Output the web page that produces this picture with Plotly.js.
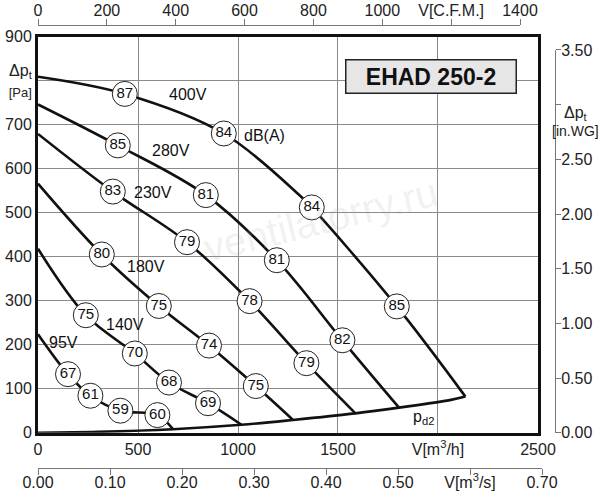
<!DOCTYPE html>
<html>
<head>
<meta charset="utf-8">
<script src="https://cdn.plot.ly/plotly-3.0.1.min.js"></script>
<style>
  body { margin: 0; background: #fff; }
  #chart { width: 600px; height: 500px; }
</style>
</head>
<body>
<div id="chart"></div>
<script>
// fan curves, V [m3/h] vs dpt [Pa]
var q400 = [0, 434, 929, 1309, 1369, 1794, 2137];
var p400 = [809, 770, 680, 539, 512, 287, 82];
var q280 = [0, 399, 839, 1194, 1522, 1805];
var p280 = [746, 653, 540, 392, 210, 57];
var q230 = [0, 374, 745, 1058, 1342, 1587];
var p230 = [679, 548, 433, 299, 158, 44];
var q180 = [0, 319, 604, 855, 1089, 1275];
var p180 = [566, 405, 288, 198, 106, 29];
var q140 = [0, 239, 484, 655, 850, 1017];
var p140 = [418, 267, 180, 114, 67, 18];
var q95 = [0, 150, 262, 412, 597, 675];
var p95 = [224, 133, 84, 50, 40, 8];

// dynamic pressure pd2
var qPd = [0, 300, 675, 1017, 1275, 1587, 1805, 2059, 2137];
var pPd = [0, 2, 8, 18, 29, 44, 57, 74, 82];

// sound level points dB(A)
var dbQ = [434, 929, 1369, 1794,
           399, 839, 1194, 1522,
           374, 745, 1058, 1342,
           319, 604, 855, 1089,
           239, 484, 655, 850,
           150, 262, 412, 597];
var dbP = [770, 680, 512, 287,
           653, 540, 392, 210,
           548, 433, 299, 158,
           405, 288, 198, 106,
           267, 180, 114, 67,
           133, 84, 50, 40];
var dbVal = ['87', '84', '84', '85',
             '85', '81', '81', '82',
             '83', '79', '78', '79',
             '80', '75', '74', '75',
             '75', '70', '68', '69',
             '67', '61', '59', '60'];

var curveNames = ['400V', '280V', '230V', '180V', '140V', '95V'];
var curveLabQ = [750, 667, 575, 542, 434, 125];
var curveLabP = [768, 641, 545, 377, 247, 204];

var font = 'Arial, "Liberation Sans", sans-serif';

function curve(x, y) {
    return {
        x: x, y: y, type: 'scatter', mode: 'lines',
        line: {color: '#111', width: 2.6, shape: 'spline'},
        hoverinfo: 'skip', showlegend: false
    };
}

var data = [
    curve(q400, p400), curve(q280, p280), curve(q230, p230),
    curve(q180, p180), curve(q140, p140), curve(q95, p95),
    curve(qPd, pPd),
    {
        x: dbQ, y: dbP, text: dbVal, type: 'scatter', mode: 'markers+text',
        textposition: 'middle center',
        textfont: {family: font, size: 15, color: '#111'},
        marker: {size: 25, color: '#fff', line: {color: '#222', width: 1}},
        hoverinfo: 'skip', showlegend: false
    },
    // carriers for the extra axes
    {x: [0], y: [0], xaxis: 'x2', yaxis: 'y2', mode: 'markers',
     marker: {opacity: 0}, hoverinfo: 'skip', showlegend: false},
    {x: [0], y: [0], xaxis: 'x3', yaxis: 'y2', mode: 'markers',
     marker: {opacity: 0}, hoverinfo: 'skip', showlegend: false}
];

var annotations = curveNames.map(function (n, i) {
    return {x: curveLabQ[i], y: curveLabP[i], xref: 'x', yref: 'y', text: n,
            showarrow: false, font: {family: font, size: 16, color: '#111'}};
});
annotations.push(
    {x: 1134, y: 675, xref: 'x', yref: 'y', text: 'dB(A)', showarrow: false,
     font: {family: font, size: 16, color: '#111'}},
    {x: 1929, y: 35, xref: 'x', yref: 'y', text: 'p<sub>d2</sub>', showarrow: false,
     font: {family: font, size: 16, color: '#111'}},
    {x: 1963, y: 809, xref: 'x', yref: 'y', text: '<b>EHAD 250-2</b>', showarrow: false,
     font: {family: font, size: 23, color: '#111'},
     bgcolor: '#e6e6e6', bordercolor: '#222', borderwidth: 1.5, borderpad: 1,
     width: 167, height: 30},
    {x: 1.0406, y: 0.826, xref: 'paper', yref: 'paper', xanchor: 'center',
     text: '<span style="font-size:16px">\u0394p<sub>t</sub></span><br>[in.WG]',
     showarrow: false,
     font: {family: font, size: 14, color: '#222'}},
    {x: 0.785, y: 0.56, xref: 'paper', yref: 'paper', text: 'ventilatorry.ru',
     showarrow: false, textangle: -14,
     font: {family: font, size: 40, color: 'rgba(170,170,170,0.18)'}}
);

var tickFont = {family: font, size: 16, color: '#222'};

var layout = {
    width: 600,
    height: 500,
    margin: {l: 38, r: 45, t: 25, b: 32},
    paper_bgcolor: '#fff',
    plot_bgcolor: 'rgba(0,0,0,0)',
    showlegend: false,
    xaxis: {
        domain: [0, 0.9671],
        range: [0, 2500],
        tickvals: [0, 500, 1000, 1500, 2000, 2500],
        ticktext: ['0', '500', '1000', '1500', 'V[m<sup>3</sup>/h]', '2500'],
        tickfont: tickFont,
        ticks: '',
        showgrid: true, gridcolor: '#8a8a8a', gridwidth: 1,
        zeroline: false,
        showline: true, linecolor: '#111', linewidth: 3, mirror: true,
        fixedrange: true
    },
    yaxis: {
        domain: [0.0797, 0.9736],
        range: [0, 900],
        tickvals: [0, 100, 200, 300, 400, 500, 600, 700, 800, 900],
        ticktext: ['0', '100', '200', '300', '400', '500', '600', '700',
                   '\u0394p<sub>t</sub><br><span style="font-size:13px">[Pa]</span>', '900'],
        tickfont: tickFont,
        ticks: '',
        showgrid: true, gridcolor: '#8a8a8a', gridwidth: 1,
        zeroline: false,
        showline: true, linecolor: '#111', linewidth: 3, mirror: true,
        fixedrange: true
    },
    xaxis2: {
        domain: [0, 0.9323],
        range: [0, 1400],
        anchor: 'free', position: 1, side: 'top',
        tickvals: [0, 200, 400, 600, 800, 1000, 1200, 1400],
        ticktext: ['0', '200', '400', '600', '800', '1000', 'V[C.F.M.]', '1400'],
        tickfont: tickFont,
        ticks: 'outside', ticklen: 6, tickcolor: '#777',
        ticklabelstandoff: -3,
        showgrid: false, zeroline: false,
        showline: true, linecolor: '#777', linewidth: 1,
        fixedrange: true
    },
    xaxis3: {
        domain: [0, 0.9749],
        range: [0, 0.7],
        anchor: 'free', position: 0, side: 'bottom',
        tickvals: [0, 0.1, 0.2, 0.3, 0.4, 0.5, 0.6, 0.7],
        ticktext: ['0.00', '0.10', '0.20', '0.30', '0.40', '0.50',
                   'V[m<sup>3</sup>/s]', '0.70'],
        tickfont: tickFont,
        ticks: 'outside', ticklen: 6, tickcolor: '#777',
        ticklabelstandoff: -6,
        showgrid: false, zeroline: false,
        showline: true, linecolor: '#777', linewidth: 1,
        fixedrange: true
    },
    yaxis2: {
        domain: [0.0797, 0.9436],
        range: [0, 3.5],
        anchor: 'free', position: 1, side: 'right',
        tickvals: [0, 0.5, 1, 1.5, 2, 2.5, 3, 3.5],
        ticktext: ['0.00', '0.50', '1.00', '1.50', '2.00', '2.50', '', '3.50'],
        tickfont: tickFont,
        ticks: 'outside', ticklen: 5, tickcolor: '#777',
        ticklabelstandoff: -3,
        showgrid: false, zeroline: false,
        showline: true, linecolor: '#777', linewidth: 1,
        fixedrange: true
    },
    annotations: annotations
};

Plotly.newPlot('chart', data, layout, {displayModeBar: false, staticPlot: true});
</script>
</body>
</html>
